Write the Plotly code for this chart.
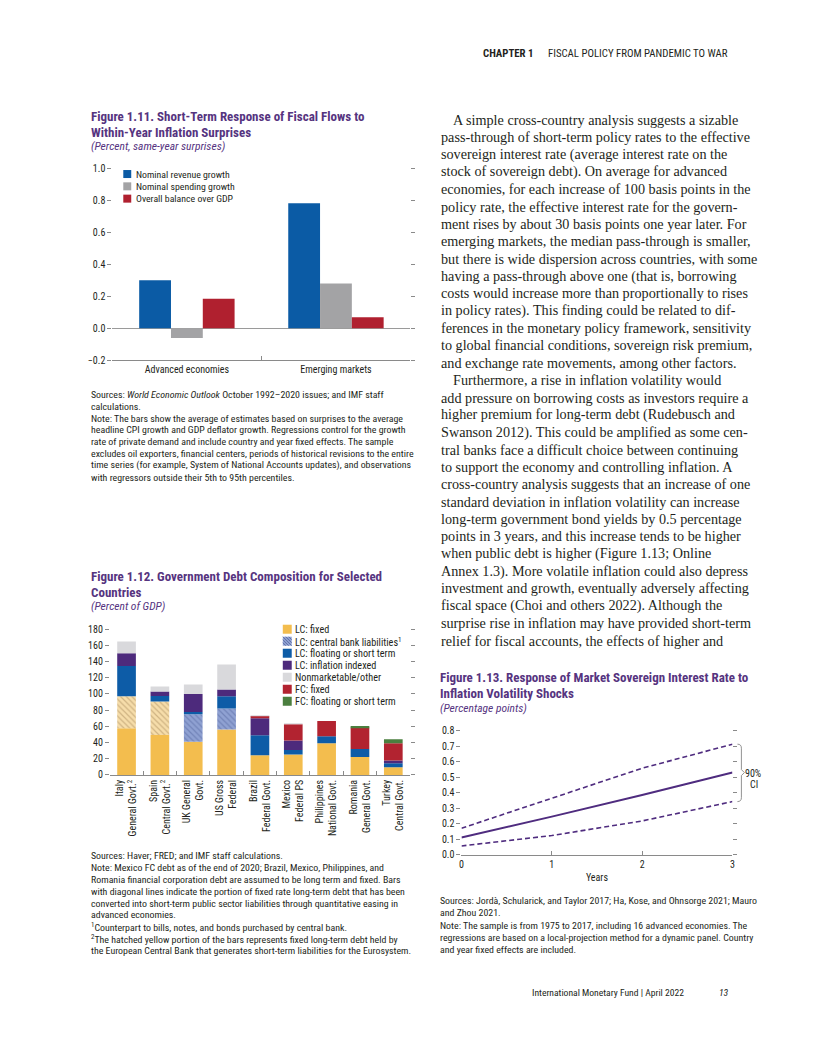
import plotly.graph_objects as go

# The page body has an 8px margin, so the figure is sized to fit inside it.
PAGE_W, PAGE_H, M = 816, 1056, 8
W, H = PAGE_W - 2 * M, PAGE_H - 2 * M


def px(x):
    return (x - M) / W


def py(y, adjust=True):
    if adjust:
        y = y - 3.5 + 0.0121 * (y - 115)
    return 1 - (y - M) / H


COND = "Liberation Sans Narrow, Arial Narrow, Roboto Condensed, DejaVu Sans Condensed, sans-serif"
SERIF = "Liberation Serif, DejaVu Serif, serif"
TXT = "#231F20"
TITLE = "#56347F"
AXC = "#8A8A8A"

# ---------------- Figure 1.11 data ----------------
f11_categories = ["Advanced economies", "Emerging markets"]
f11_names = ["Nominal revenue growth", "Nominal spending growth", "Overall balance over GDP"]
f11_revenue = [0.30, 0.78]
f11_spending = [-0.06, 0.28]
f11_balance = [0.185, 0.07]
f11_colors = ["#0B5BA5", "#A3A3A5", "#B0202F"]
f11_ticks = [-0.2, 0.0, 0.2, 0.4, 0.6, 0.8, 1.0]

# ---------------- Figure 1.12 data ----------------
f12_categories = [
    "Italy<br>General Govt.<sup>2</sup>",
    "Spain<br>Central Govt.<sup>2</sup>",
    "UK General<br>Govt.",
    "US Gross<br>Federal",
    "Brazil<br>Federal Govt.",
    "Mexico<br>Federal PS",
    "Philippines<br>National Govt.",
    "Romania<br>General Govt.",
    "Turkey<br>Central Govt.",
]
lc_fixed = [57.7, 49.4, 40.8, 56.0, 24.3, 25.1, 39.1, 22.2, 9.5]
lc_fixed_ecb = [39.5, 41.2, 0, 0, 0, 0, 0, 0, 0]
lc_cb_liab = [0, 0, 34.2, 26.0, 0, 0, 0, 0, 0]
lc_float = [37.5, 7.0, 2.8, 15.2, 24.7, 5.8, 8.7, 9.9, 4.9]
lc_infl = [15.6, 5.4, 22.2, 8.2, 21.0, 11.5, 0, 0, 3.3]
fc_fixed = [0, 0, 0, 0, 2.9, 20.2, 18.9, 26.4, 21.4]
fc_float = [0, 0, 0, 0, 0, 0, 0, 2.0, 5.0]
nonmkt = [14.4, 6.1, 11.6, 30.9, 0.8, 0.5, 0, 0, 0]
f12_legend = ["LC: fixed", "LC: central bank liabilities<sup>1</sup>", "LC: floating or short term",
              "LC: inflation indexed", "Nonmarketable/other", "FC: fixed", "FC: floating or short term"]
YEL, BLU, PUR, LGR, RED, GRN = "#F3BD4E", "#0D5CA7", "#4D2A7C", "#D9D9DC", "#B22330", "#4B7F3F"
f12_legend_colors = [YEL, "#8FA1D2", BLU, PUR, LGR, RED, GRN]

# ---------------- Figure 1.13 data ----------------
f13_years = [0, 1, 2, 3]
f13_estimate = [0.112, 0.247, 0.387, 0.531]
f13_upper = [0.172, 0.365, 0.559, 0.714]
f13_lower = [0.058, 0.125, 0.219, 0.344]
LINEP = "#4F2C7F"

fig = go.Figure()

# Fig 1.11 bars
for name, vals, col in zip(f11_names, [f11_revenue, f11_spending, f11_balance], f11_colors):
    fig.add_trace(go.Bar(x=f11_categories, y=vals, name=name, marker=dict(color=col, line=dict(width=0)),
                         xaxis="x", yaxis="y", showlegend=False))

# Fig 1.12 stacked bars (base computed cumulatively)
stack = [
    (lc_fixed, dict(color=YEL, line=dict(width=0))),
    (lc_fixed_ecb, dict(color="#F5DBA6", line=dict(width=0),
                        pattern=dict(shape="\\", bgcolor="#F6DDAA", fgcolor="#A88A5C", size=4, solidity=0.3))),
    (lc_cb_liab, dict(color="#8FA1D2", line=dict(width=0),
                      pattern=dict(shape="\\", bgcolor="#8FA1D2", fgcolor="#55679F", size=4, solidity=0.3))),
    (lc_float, dict(color=BLU, line=dict(width=0))),
    (lc_infl, dict(color=PUR, line=dict(width=0))),
    (fc_fixed, dict(color=RED, line=dict(width=0))),
    (fc_float, dict(color=GRN, line=dict(width=0))),
    (nonmkt, dict(color=LGR, line=dict(width=0))),
]
base = [0.0] * len(f12_categories)
for vals, mk in stack:
    fig.add_trace(go.Bar(x=f12_categories, y=vals, base=list(base), marker=mk, width=0.56, offset=-0.28,
                         xaxis="x2", yaxis="y2", showlegend=False))
    base = [b + v for b, v in zip(base, vals)]

# Fig 1.13 lines
for vals in (f13_upper, f13_lower):
    fig.add_trace(go.Scatter(x=f13_years, y=vals, mode="lines",
                             line=dict(color=LINEP, width=1.6, dash="5px,3px"),
                             xaxis="x3", yaxis="y3", showlegend=False))
fig.add_trace(go.Scatter(x=f13_years, y=f13_estimate, mode="lines", line=dict(color=LINEP, width=2),
                         xaxis="x3", yaxis="y3", showlegend=False))

tickfont = dict(family=COND, size=10, color=TXT)
common_y = dict(showgrid=False, ticks="outside", ticklen=4, tickcolor=AXC, mirror="ticks", showline=False,
                tickfont=tickfont, fixedrange=True)

fig.update_layout(
    width=W, height=H, autosize=False, margin=dict(l=0, r=0, t=0, b=0),
    paper_bgcolor="white", plot_bgcolor="rgba(0,0,0,0)",
    barmode="group", bargap=0.36, bargroupgap=0, showlegend=False,
    font=dict(family=COND, color=TXT),
    xaxis=dict(domain=[px(111), px(411)], anchor="y", type="category", showline=True, linecolor=AXC,
               ticks="inside", tickson="boundaries", ticklen=4, tickcolor=AXC, showgrid=False,
               tickfont=tickfont, fixedrange=True),
    yaxis=dict(domain=[py(359), py(166.7)], anchor="x", range=[-0.2, 1.0], tickvals=f11_ticks,
               tickformat=".1f", zeroline=True, zerolinecolor="#9A9A9A", zerolinewidth=1, **common_y),
    xaxis2=dict(domain=[px(108.5), px(410.5)], anchor="y2", type="category", showline=True, linecolor=AXC,
                ticks="inside", tickson="boundaries", ticklen=4, tickcolor=AXC, showgrid=False,
                tickangle=-90, tickfont=tickfont, fixedrange=True),
    yaxis2=dict(domain=[py(773.3), py(627.7)], anchor="x2", range=[0, 180], dtick=20, zeroline=False, **common_y),
    xaxis3=dict(domain=[px(462.3), px(735)], anchor="y3", range=[0, 3], dtick=1, showline=True, linecolor=AXC,
                ticks="inside", ticklen=4, tickcolor=AXC, showgrid=False, zeroline=False, tickfont=tickfont,
                title=dict(text="Years", font=dict(family=COND, size=10, color=TXT), standoff=5), fixedrange=True),
    yaxis3=dict(domain=[py(853.3), py(729.3)], anchor="x3", range=[0, 0.8], dtick=0.1, tickformat=".1f",
                zeroline=False, **common_y),
)

ann = []
shapes = []


def text(x, y, s, size=9.9, family=COND, color=TXT, anchor="left", adjust=True):
    ann.append(dict(x=px(x), y=py(y, adjust), xref="paper", yref="paper", text=s, showarrow=False, xanchor=anchor,
                    yanchor="middle", font=dict(family=family, size=size, color=color), borderpad=0))


# header / footer
text(483, 52.7, "<b>CHAPTER 1</b>", size=10.8)
text(548, 52.7, "FISCAL POLICY FROM PANDEMIC TO WAR", size=10.8)
text(532, 998, "International Monetary Fund | April 2022", size=9.6, adjust=False)
text(720, 998, "<i>13</i>", size=9.6, adjust=False)

# Figure 1.11 titles
text(89, 115, "<b>Figure 1.11. Short-Term Response of Fiscal Flows to</b>", size=13, color=TITLE)
text(89, 130.7, "<b>Within-Year Inflation Surprises</b>", size=13, color=TITLE)
text(89, 144.3, "<i>(Percent, same-year surprises)</i>", size=11.5, color=TITLE)

# Fig 1.11 legend
for i, (name, col) in enumerate(zip(f11_names, f11_colors)):
    yc = 172.7 + 12.3 * i
    shapes.append(dict(type="rect", xref="paper", yref="paper", x0=px(122), x1=px(130), y0=py(yc + 4),
                       y1=py(yc - 4), fillcolor=col, line=dict(width=0)))
    text(134, yc, name, size=9.8)

f11_notes = [
    "Sources: <i>World Economic Outlook</i> October 1992–2020 issues; and IMF staff",
    "calculations.",
    "Note: The bars show the average of estimates based on surprises to the average",
    "headline CPI growth and GDP deflator growth. Regressions control for the growth",
    "rate of private demand and include country and year fixed effects. The sample",
    "excludes oil exporters, financial centers, periods of historical revisions to the entire",
    "time series (for example, System of National Accounts updates), and observations",
    "with regressors outside their 5th to 95th percentiles.",
]
for i, s in enumerate(f11_notes):
    text(89, 393 + 11.8 * i, s)

# Figure 1.12 titles
text(89, 575, "<b>Figure 1.12. Government Debt Composition for Selected</b>", size=13, color=TITLE)
text(89, 591, "<b>Countries</b>", size=13, color=TITLE)
text(89, 604.3, "<i>(Percent of GDP)</i>", size=11.5, color=TITLE)

for i, (name, col) in enumerate(zip(f12_legend, f12_legend_colors)):
    yc = 627.7 + 12 * i
    x0, s = 282.5, 9.0
    shapes.append(dict(type="rect", xref="paper", yref="paper", x0=px(x0), x1=px(x0 + s), y0=py(yc + s / 2),
                       y1=py(yc - s / 2), fillcolor=col, line=dict(width=0)))
    if i == 1:
        top = yc - s / 2
        for c in [-6, -3, 0, 3, 6]:
            ya, yb = max(0, -c), min(s, s - c)
            path = "M %f,%f L %f,%f" % (px(x0 + ya + c), py(top + ya), px(x0 + yb + c), py(top + yb))
            shapes.append(dict(type="path", xref="paper", yref="paper", path=path,
                               line=dict(color="#55679F", width=0.8)))
    text(294, yc, name, size=10.2)

f12_notes = [
    "Sources: Haver; FRED; and IMF staff calculations.",
    "Note: Mexico FC debt as of the end of 2020; Brazil, Mexico, Philippines, and",
    "Romania financial corporation debt are assumed to be long term and fixed. Bars",
    "with diagonal lines indicate the portion of fixed rate long-term debt that has been",
    "converted into short-term public sector liabilities through quantitative easing in",
    "advanced economies.",
    "<sup>1</sup>Counterpart to bills, notes, and bonds purchased by central bank.",
    "<sup>2</sup>The hatched yellow portion of the bars represents fixed long-term debt held by",
    "the European Central Bank that generates short-term liabilities for the Eurosystem.",
]
for i, s in enumerate(f12_notes):
    text(89, 854.3 + 11.8 * i, s)

# Figure 1.13 titles
text(440, 676, "<b>Figure 1.13. Response of Market Sovereign Interest Rate to</b>", size=13, color=TITLE)
text(440, 692.3, "<b>Inflation Volatility Shocks</b>", size=13, color=TITLE)
text(440, 706.7, "<i>(Percentage points)</i>", size=11.5, color=TITLE)

# CI bracket
bt, bm, bb = 742.6, 771.0, 800.0
bx = 740
path = ("M %f,%f Q %f,%f %f,%f L %f,%f L %f,%f L %f,%f L %f,%f Q %f,%f %f,%f" % (
    px(bx), py(bt), px(bx + 4), py(bt), px(bx + 4), py(bt + 4),
    px(bx + 4), py(bm - 3), px(bx + 7), py(bm), px(bx + 4), py(bm + 3),
    px(bx + 4), py(bb - 4), px(bx + 4), py(bb), px(bx), py(bb)))
shapes.append(dict(type="path", xref="paper", yref="paper", path=path, line=dict(color="#777777", width=0.8)))
text(756, 771.5, "90%", size=10, anchor="center")
text(757, 783, "CI", size=10, anchor="center")

f13_notes = [
    ("Sources: Jordà, Schularick, and Taylor 2017; Ha, Kose, and Ohnsorge 2021; Mauro", 899.3),
    ("and Zhou 2021.", 910.8),
    ("Note: The sample is from 1975 to 2017, including 16 advanced economies. The", 924.3),
    ("regressions are based on a local-projection method for a dynamic panel. Country", 936.3),
    ("and year fixed effects are included.", 948.3),
]
for s, y in f13_notes:
    text(440, y, s)

# Body text
body = [
    ("A simple cross-country analysis suggests a sizable", True),
    ("pass-through of short-term policy rates to the effective", False),
    ("sovereign interest rate (average interest rate on the", False),
    ("stock of sovereign debt). On average for advanced", False),
    ("economies, for each increase of 100 basis points in the", False),
    ("policy rate, the effective interest rate for the govern-", False),
    ("ment rises by about 30 basis points one year later. For", False),
    ("emerging markets, the median pass-through is smaller,", False),
    ("but there is wide dispersion across countries, with some", False),
    ("having a pass-through above one (that is, borrowing", False),
    ("costs would increase more than proportionally to rises", False),
    ("in policy rates). This finding could be related to dif-", False),
    ("ferences in the monetary policy framework, sensitivity", False),
    ("to global financial conditions, sovereign risk premium,", False),
    ("and exchange rate movements, among other factors.", False),
    ("Furthermore, a rise in inflation volatility would", True),
    ("add pressure on borrowing costs as investors require a", False),
    ("higher premium for long-term debt (Rudebusch and", False),
    ("Swanson 2012). This could be amplified as some cen-", False),
    ("tral banks face a difficult choice between continuing", False),
    ("to support the economy and controlling inflation. A", False),
    ("cross-country analysis suggests that an increase of one", False),
    ("standard deviation in inflation volatility can increase", False),
    ("long-term government bond yields by 0.5 percentage", False),
    ("points in 3 years, and this increase tends to be higher", False),
    ("when public debt is higher (Figure 1.13; Online", False),
    ("Annex 1.3). More volatile inflation could also depress", False),
    ("investment and growth, eventually adversely affecting", False),
    ("fiscal space (Choi and others 2022). Although the", False),
    ("surprise rise in inflation may have provided short-term", False),
    ("relief for fiscal accounts, the effects of higher and", False),
]
for i, (s, indent) in enumerate(body):
    text(453 if indent else 440.5, 118.5 + 17.35 * i, s, size=14.2, family=SERIF)

fig.update_layout(annotations=ann, shapes=shapes)
fig.write_html("out.html")
